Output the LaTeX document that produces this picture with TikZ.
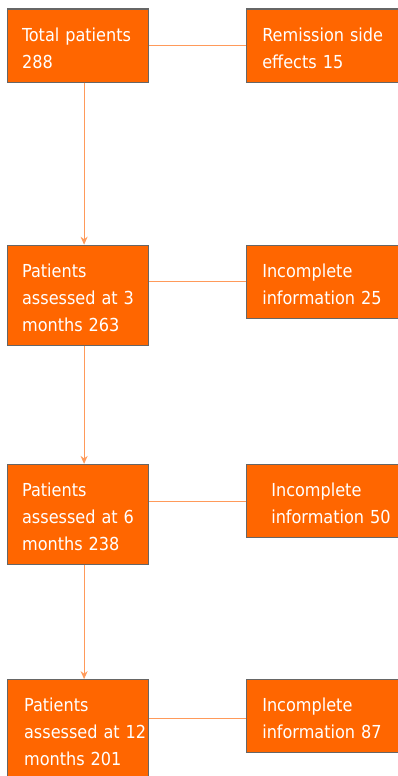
\documentclass[tikz,border=0pt]{standalone}
\usepackage{fontspec}
\setmainfont{DejaVu Sans Condensed}
\usepackage{tikz}
\usetikzlibrary{arrows.meta,positioning}
\definecolor{boxorange}{HTML}{FF6600}
\definecolor{boxedge}{HTML}{666666}
\definecolor{linkorange}{HTML}{FF9A5A}

\begin{document}
\begin{tikzpicture}[
    x=1pt, y=1pt,
    stage/.style={draw=boxedge, line width=1.2pt, fill=boxorange,
                  text=white, minimum width=141pt, text width=111pt,
                  inner xsep=15pt, inner ysep=0pt, align=left,
                  font=\fontsize{17.9}{27}\selectfont,
                  execute at begin node={\rule{0pt}{18.5pt}}},
    loss/.style={stage, minimum width=152pt, text width=120pt,
                 inner xsep=16pt, minimum height=73pt},
    arrow/.style={-{Stealth[length=8pt,width=7pt]}, draw=linkorange, line width=0.9pt},
    link/.style={draw=linkorange, line width=0.9pt},
]
  \useasboundingbox (0,0) rectangle (397,-776);

  % Flow nodes
  \node[stage,minimum height=73pt,anchor=north west] (total) at (6.5,-8.5)
    {Total~patients\\288};
  \node[stage,minimum height=100pt,below=162pt of total] (three)
    {Patients\\assessed~at~3\\months~263};
  \node[stage,minimum height=100pt,below=118pt of three] (six)
    {Patients\\assessed~at~6\\months~238};
  \node[stage,minimum height=100pt,below=114pt of six,
        inner xsep=17pt,text width=107pt] (twelve)
    {Patients\\assessed~at~12\\months~201};

  % Losses
  \node[loss,right=97pt of total.north east,anchor=north west] (sideeff)
    {Remission~side\\effects~15};
  \node[loss,right=97pt of three.north east,anchor=north west] (inc3)
    {Incomplete\\information~25};
  \node[loss,right=97pt of six.north east,anchor=north west,
        inner xsep=25pt,text width=102pt] (inc6)
    {Incomplete\\information~50};
  \node[loss,right=97pt of twelve.north east,anchor=north west] (inc12)
    {Incomplete\\information~87};

  % Arrows
  \draw[arrow] ([xshift=6.5pt]total.south) -- ([xshift=6.5pt]three.north);
  \draw[arrow] ([xshift=6.5pt]three.south) -- ([xshift=6.5pt]six.north);
  \draw[arrow] ([xshift=6.5pt]six.south) -- ([xshift=6.5pt]twelve.north);
  \draw[link] (sideeff.west) -- (sideeff.west -| total.east);
  \draw[link] (inc3.west) -- (inc3.west -| three.east);
  \draw[link] (inc6.west) -- (inc6.west -| six.east);
  \draw[link] ([yshift=-2.5pt]inc12.west) -- ([yshift=-2.5pt]inc12.west -| twelve.east);
\end{tikzpicture}
\end{document}
